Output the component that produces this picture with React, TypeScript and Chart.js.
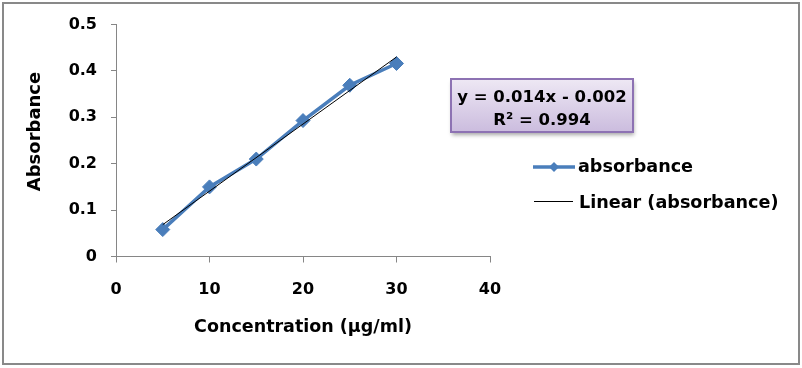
import React, { useEffect, useRef } from "react";
import { Chart, registerables } from "chart.js";

Chart.register(...registerables);

const concentrations = [5, 10, 15, 20, 25, 30];
const absorbance = [0.058, 0.15, 0.21, 0.293, 0.369, 0.416];
const xTickLabels = ["0", "10", "20", "30", "40"];
const yTickLabels = ["0", "0.1", "0.2", "0.3", "0.4", "0.5"];
const seriesName = "absorbance";
const trendName = "Linear (absorbance)";
const equationLines = ["y = 0.014x - 0.002", "R² = 0.994"];
const xTitle = "Concentration (µg/ml)";
const yTitle = "Absorbance";

const FONT = "'DejaVu Sans', 'Liberation Sans', Arial, sans-serif";
const BLUE = "#4A7EBB";
const AXIS = "#868686";

function regression(xs: number[], ys: number[]) {
  const n = xs.length;
  const mx = xs.reduce((a, b) => a + b, 0) / n;
  const my = ys.reduce((a, b) => a + b, 0) / n;
  let sxy = 0;
  let sxx = 0;
  for (let i = 0; i < n; i++) {
    sxy += (xs[i] - mx) * (ys[i] - my);
    sxx += (xs[i] - mx) * (xs[i] - mx);
  }
  const slope = sxy / sxx;
  return { slope, intercept: my - slope * mx };
}

const decorPlugin = {
  id: "decor",
  beforeDraw(chart: any) {
    const ctx = chart.ctx;
    ctx.save();
    ctx.fillStyle = "#ffffff";
    ctx.fillRect(0, 0, chart.width, chart.height);
    ctx.restore();
  },
  afterDraw(chart: any) {
    const ctx = chart.ctx;
    const area = chart.chartArea;
    ctx.save();
    // outer border
    ctx.strokeStyle = "#898989";
    ctx.lineWidth = 2;
    ctx.strokeRect(3, 3, 796, 361);

    // axis titles
    ctx.fillStyle = "#000";
    ctx.font = `bold 17.5px ${FONT}`;
    ctx.textAlign = "center";
    ctx.textBaseline = "middle";
    ctx.fillText(xTitle, (area.left + area.right) / 2, 327);
    ctx.save();
    ctx.translate(35, 131.5);
    ctx.rotate(-Math.PI / 2);
    ctx.font = `bold 18px ${FONT}`;
    ctx.fillText(yTitle, 0, 0);
    ctx.restore();

    // equation box
    const bx = 451, by = 79, bw = 182, bh = 53;
    ctx.save();
    ctx.shadowColor = "rgba(0,0,0,0.35)";
    ctx.shadowBlur = 4;
    ctx.shadowOffsetX = 1;
    ctx.shadowOffsetY = 3;
    const g = ctx.createLinearGradient(0, by, 0, by + bh);
    g.addColorStop(0, "#EEE8F4");
    g.addColorStop(1, "#CBBCDE");
    ctx.fillStyle = g;
    ctx.fillRect(bx, by, bw, bh);
    ctx.restore();
    ctx.strokeStyle = "#8D72B3";
    ctx.lineWidth = 2;
    ctx.strokeRect(bx, by, bw, bh);
    ctx.fillStyle = "#000";
    ctx.font = `bold 16.5px ${FONT}`;
    ctx.textAlign = "center";
    ctx.textBaseline = "alphabetic";
    ctx.fillText(equationLines[0], bx + bw / 2, 102);
    ctx.fillText(equationLines[1], bx + bw / 2, 125);

    // legend
    ctx.strokeStyle = BLUE;
    ctx.lineWidth = 3.5;
    ctx.beginPath();
    ctx.moveTo(533, 167);
    ctx.lineTo(575, 167);
    ctx.stroke();
    ctx.fillStyle = BLUE;
    ctx.beginPath();
    ctx.moveTo(554 - 5, 167);
    ctx.lineTo(554, 167 - 5);
    ctx.lineTo(554 + 5, 167);
    ctx.lineTo(554, 167 + 5);
    ctx.closePath();
    ctx.fill();
    ctx.strokeStyle = "#000";
    ctx.lineWidth = 1;
    ctx.beginPath();
    ctx.moveTo(534, 201.5);
    ctx.lineTo(573, 201.5);
    ctx.stroke();
    ctx.fillStyle = "#000";
    ctx.font = `bold 17.6px ${FONT}`;
    ctx.textAlign = "left";
    ctx.textBaseline = "middle";
    ctx.fillText(seriesName, 578, 167);
    ctx.fillText(trendName, 579, 203);
    ctx.restore();
  },
};

export default function App() {
  const ref = useRef<HTMLCanvasElement>(null);

  useEffect(() => {
    if (!ref.current) return;
    const { slope, intercept } = regression(concentrations, absorbance);
    const xFirst = concentrations[0];
    const xLast = concentrations[concentrations.length - 1];
    const chart = new Chart(ref.current, {
      type: "scatter",
      data: {
        datasets: [
          {
            label: trendName,
            data: [
              { x: xFirst, y: slope * xFirst + intercept },
              { x: xLast, y: slope * xLast + intercept },
            ],
            showLine: true,
            borderColor: "#000",
            borderWidth: 1,
            pointRadius: 0,
            order: 0,
          },
          {
            label: seriesName,
            data: concentrations.map((x, i) => ({ x, y: absorbance[i] })),
            showLine: true,
            borderColor: BLUE,
            backgroundColor: BLUE,
            borderWidth: 3.5,
            pointStyle: "rectRot",
            pointRadius: 7,
            pointBorderWidth: 1,
            order: 1,
          },
        ],
      },
      options: {
        responsive: false,
        animation: false,
        devicePixelRatio: 1,
        layout: { padding: { left: 0, top: 24.5, right: 312, bottom: 0 } },
        plugins: { legend: { display: false }, tooltip: { enabled: false } },
        scales: {
          x: {
            type: "linear",
            min: 0,
            max: 40,
            afterFit: (s: any) => {
              s.height = 111.5;
            },
            ticks: {
              stepSize: 10,
              padding: 18,
              color: "#000",
              font: { family: FONT, size: 16, weight: "bold" },
              callback: (_v: any, i: number) => xTickLabels[i],
            },
            grid: {
              drawOnChartArea: false,
              drawTicks: true,
              tickLength: 6,
              color: AXIS,
            },
            border: { color: AXIS, width: 1 },
          },
          y: {
            min: 0,
            max: 0.5,
            afterFit: (s: any) => {
              s.width = 116;
            },
            ticks: {
              stepSize: 0.1,
              padding: 14,
              color: "#000",
              font: { family: FONT, size: 16, weight: "bold" },
              callback: (_v: any, i: number) => yTickLabels[i],
            },
            grid: {
              drawOnChartArea: false,
              drawTicks: true,
              tickLength: 5,
              color: AXIS,
            },
            border: { color: AXIS, width: 1 },
          },
        },
      },
      plugins: [decorPlugin],
    });
    return () => chart.destroy();
  }, []);

  return (
    <div style={{ position: "fixed", left: 0, top: 0, width: 802, height: 368, background: "#fff" }}>
      <canvas ref={ref} width={802} height={368} style={{ width: 802, height: 368, display: "block" }} />
    </div>
  );
}
